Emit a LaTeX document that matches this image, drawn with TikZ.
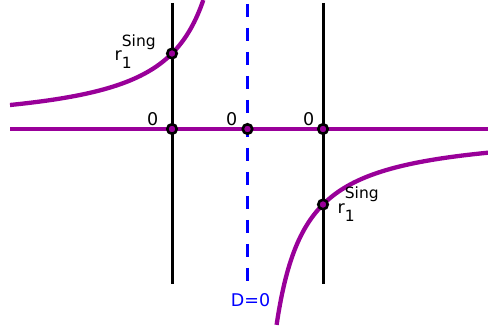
\documentclass[tikz,border=0pt]{standalone}
\usepackage{fontspec}
\setmainfont{DejaVu Sans}
\usetikzlibrary{positioning}
\definecolor{curvepurple}{RGB}{153,0,153}
\newcommand{\scriptsz}{\fontsize{15.5}{18}\selectfont}
\newcommand{\rsing}{r\rlap{\raisebox{-8pt}{\scriptsz 1}}\raisebox{14.5pt}{\scriptsz Sing}}

\begin{document}
\begin{tikzpicture}[x=1pt,y=-1pt,font=\fontsize{17.5}{20}\selectfont]
  \tikzset{
    axisline/.style={line width=3pt},
    poleline/.style={blue,line width=3pt,dash pattern=on 13.5pt off 10.5pt},
    curve/.style={curvepurple,line width=4.3pt},
    pt/.style={circle,draw=black,fill=curvepurple,line width=2.6pt,inner sep=0pt,minimum size=9.5pt},
    lbl/.style={inner sep=0pt,anchor=base west}
  }
  \useasboundingbox (0,0) rectangle (488,334);
  % ends of the lines
  \coordinate (hleft) at (10,129);
  \coordinate (hright) at (488,129);
  \coordinate (atop) at (172,3);
  \coordinate (abot) at (172,284);
  \coordinate (btop) at (323,3);
  \coordinate (bbot) at (323,284);
  \coordinate (ptop) at (247.5,4);
  \coordinate (pbot) at (247.5,282);
  % lines and branches
  \draw[curve] (hleft) -- (hright);
  \draw[curve] plot[domain=10:203.3,samples=150,smooth] (\x,{129+5700/(\x-247.5)});
  \draw[curve] plot[domain=276.6:488,samples=150,smooth] (\x,{129+5700/(\x-247.5)});
  \draw[axisline] (atop) -- (abot);
  \draw[axisline] (btop) -- (bbot);
  \draw[poleline] (ptop) -- (pbot);
  % points
  \node[pt] (sa) at (172,53.5) {};
  \node[pt] (za) at (172,129) {};
  \node[pt] (zp) at (247.5,129) {};
  \node[pt] (zb) at (323,129) {};
  \node[pt] (sb) at (323,204.5) {};
  % labels
  \node[lbl] (la) at (147,126) {0};
  \node[lbl] (lp) at (226,126) {0};
  \node[lbl] (lb) at (303,126) {0};
  \node[lbl] (ra) at (114.5,61) {\rsing};
  \node[lbl] (rb) at (337.5,213.5) {\rsing};
  \node[inner sep=0pt,anchor=base,text=blue] (dzero) at (250.5,306) {D=0};
\end{tikzpicture}
\end{document}
